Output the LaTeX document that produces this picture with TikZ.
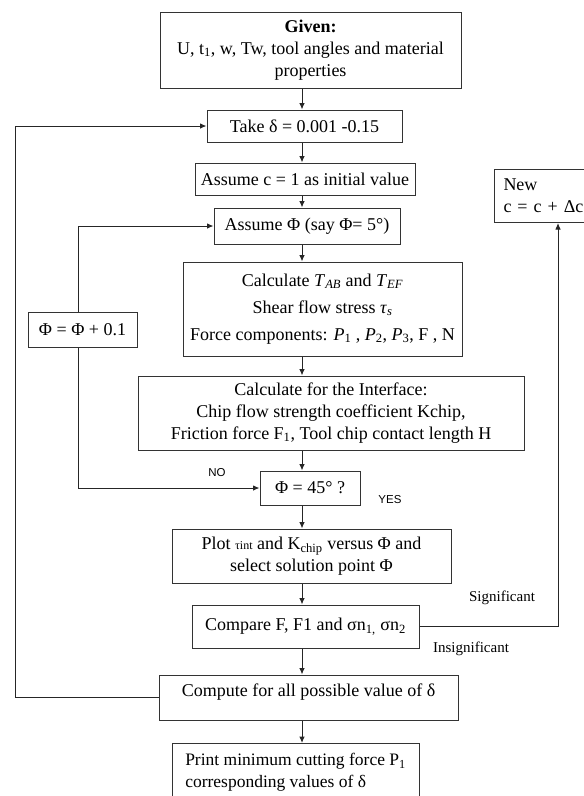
\documentclass[tikz,border=0pt]{standalone}
\usepackage{fontspec}
\setmainfont{Liberation Serif}
\newfontfamily\labelfont{Liberation Sans}
\usetikzlibrary{arrows.meta}

\begin{document}
\begin{tikzpicture}[x=1pt,y=-1pt,
    box/.style={draw=black!80,line width=1pt,align=center,inner sep=0pt,
      font=\fontsize{18}{22}\selectfont},
    link/.style={draw=black!85,line width=1pt},
    arr/.style={link,-{Latex[length=6.5pt,width=5.5pt]}},
    yesno/.style={font=\labelfont\fontsize{11.5}{13}\selectfont},
    branch/.style={font=\fontsize{15}{17}\selectfont}]
      \clip (0,0) rectangle (584,796);
      \fill[white] (0,0) rectangle (584,796);
      \node[box,minimum width=301,minimum height=76] (given) at (310.5,50)
        {\textbf{Given:}\\U, t\textsubscript{1}, w, Tw, tool angles and material\\properties};
      \node[box,minimum width=195,minimum height=32] (take) at (304.5,126) {Take δ = 0.001 -0.15};
      \node[box,minimum width=220,minimum height=32] (assumec) at (305,179) {Assume c = 1 as initial value};
      \node[box,minimum width=186,minimum height=36] (assumephi) at (307,226) {Assume Φ (say Φ= 5°)};
      \node[box,minimum width=279,minimum height=94] (calc) at (322.5,309)
        {Calculate \textit{T}\textsubscript{\textit{AB}} and \textit{T}\textsubscript{\textit{EF}}\\[5pt]
         Shear flow stress \textit{τ}\textsubscript{\textit{s}}\\[5pt]
         Force components: \textit{P}\textsubscript{1} , \textit{P}\textsubscript{2}, \textit{P}\textsubscript{3}, F , N};
      \node[box,minimum width=109,minimum height=35] (phiinc) at (82.5,329.5) {Φ = Φ + 0.1};
      \node[box,minimum width=386,minimum height=74] (iface) at (331,413)
        {Calculate for the Interface:\\Chip flow strength coefficient Kchip,\\Friction force F\textsubscript{1}, Tool chip contact length H};
      \node[box,minimum width=100,minimum height=34] (check) at (310,488) {Φ = 45° ?};
      \node[box,minimum width=279,minimum height=54] (plot) at (311.5,556)
        {Plot {\fontsize{12}{14}\selectfont τint} and K\textsubscript{chip} versus Φ and\\select solution point Φ};
      \node[box,minimum width=227,minimum height=43] (compare) at (305.5,626.5)
        {Compare F, F1 and σn\textsubscript{1,} σn\textsubscript{2}};
      \node[box,minimum width=299,minimum height=45,text depth=14pt] (compute) at (308.5,697.5)
        {Compute for all possible value of δ};
      \node[box,minimum width=247,minimum height=58,align=left,anchor=north,
        font=\fontsize{17.5}{22}\selectfont] (print) at (295.5,743)
        {Print minimum cutting force P\textsubscript{1}\\corresponding values of δ};
      \node[box,minimum width=106,minimum height=53,text width=88,align=left,anchor=north west] (newc) at (494,169)
        {New\\c = c + Δc};
      \node[yesno] (no) at (217,473) {NO};
      \node[yesno] (yes) at (390,500) {YES};
      \node[branch] (sig) at (502,598) {Significant};
      \node[branch] (insig) at (471,649) {Insignificant};
      \coordinate (spine) at (302,0);
      \coordinate (outer) at (15,0);
      \coordinate (inner) at (78,0);
      \coordinate (side) at (558,0);
      \foreach \from/\to in {given/take, take/assumec, assumec/assumephi, assumephi/calc, calc/iface,
          iface/check, check/plot, plot/compare, compare/compute, compute/print} {
        \path[arr] (\from.south -| spine) -- (\to.north -| spine);
      }
      \path[arr] (compute.west) -- (compute.west -| outer) -- (take.west -| outer) -- (take.west);
      \path[arr] (phiinc.north -| inner) -- (assumephi.west -| inner) -- (assumephi.west);
      \path[arr] (phiinc.south -| inner) -- (check.west -| inner) -- (check.west);
      \path[arr] (compare.east) -- (compare.east -| side) -- (newc.south -| side);
    \end{tikzpicture}
\end{document}
